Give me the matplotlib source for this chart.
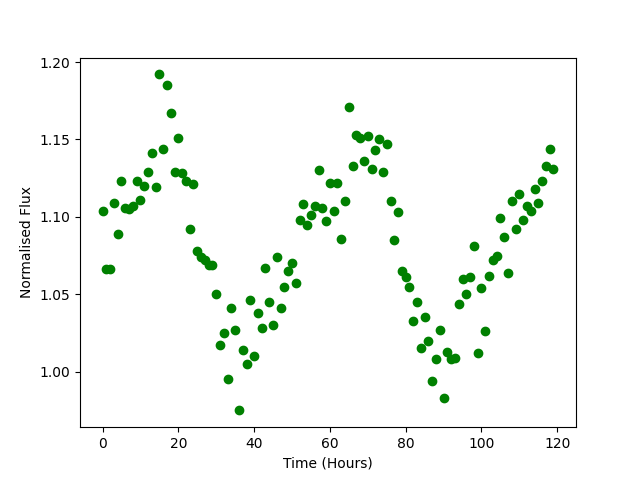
import numpy as np
import matplotlib
matplotlib.use("Agg")
import matplotlib.pyplot as plt

# hourly samples
time_hours = np.arange(120)

flux = [
    1.104, 1.066, 1.066, 1.109, 1.089, 1.123, 1.106, 1.105, 1.107, 1.123,
    1.111, 1.120, 1.129, 1.141, 1.119, 1.192, 1.144, 1.185, 1.167, 1.129,
    1.151, 1.128, 1.123, 1.092, 1.121, 1.078, 1.074, 1.072, 1.069, 1.069,
    1.050, 1.017, 1.025, 0.995, 1.041, 1.027, 0.975, 1.014, 1.005, 1.046,
    1.010, 1.038, 1.028, 1.067, 1.045, 1.030, 1.074, 1.041, 1.055, 1.065,
    1.070, 1.057, 1.098, 1.108, 1.095, 1.101, 1.107, 1.130, 1.106, 1.097,
    1.122, 1.104, 1.122, 1.086, 1.110, 1.171, 1.133, 1.153, 1.151, 1.136,
    1.152, 1.131, 1.143, 1.150, 1.129, 1.147, 1.110, 1.085, 1.103, 1.065,
    1.061, 1.055, 1.033, 1.045, 1.015, 1.035, 1.020, 0.994, 1.008, 1.027,
    0.983, 1.013, 1.008, 1.009, 1.044, 1.060, 1.050, 1.061, 1.081, 1.012,
    1.054, 1.026, 1.062, 1.072, 1.075, 1.099, 1.087, 1.064, 1.110, 1.092,
    1.115, 1.098, 1.107, 1.104, 1.118, 1.109, 1.123, 1.133, 1.144, 1.131,
]

plt.figure(figsize=(6.4, 4.8), dpi=100)
plt.plot(time_hours, flux, 'go')
plt.xlabel("Time (Hours)")
plt.ylabel("Normalised Flux")
plt.savefig("out.png")
